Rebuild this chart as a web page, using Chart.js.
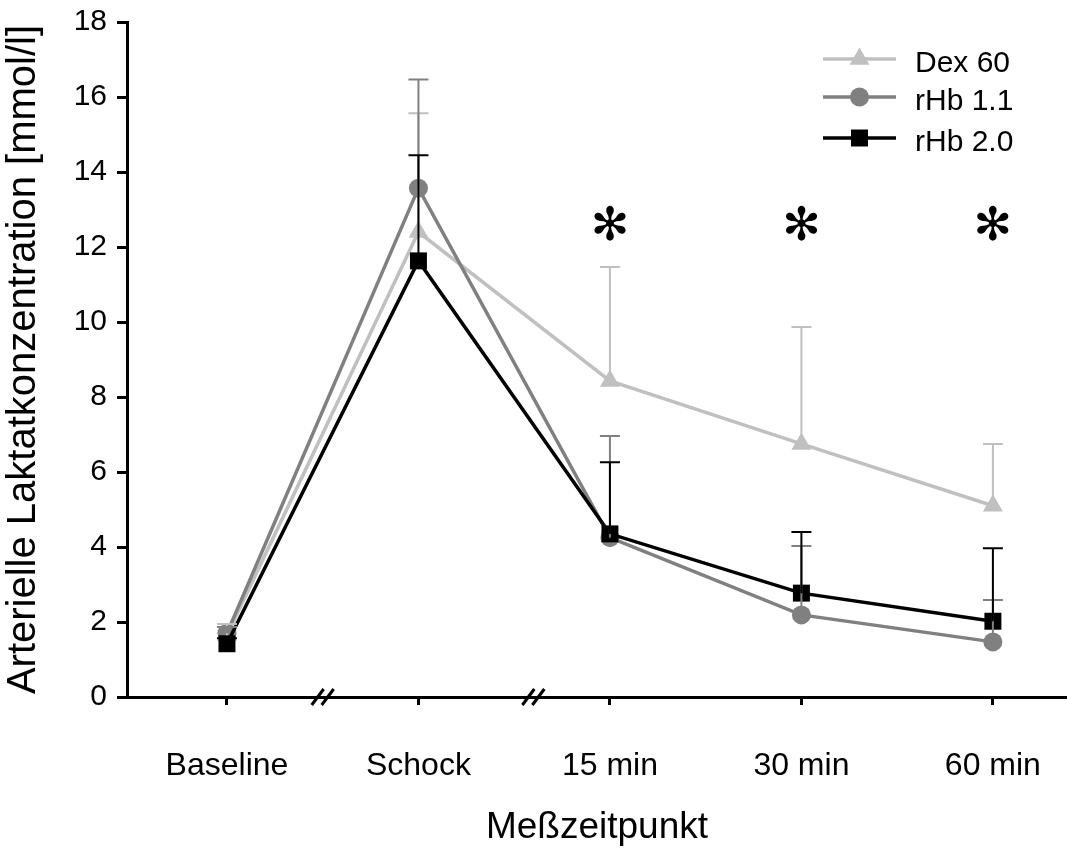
<!DOCTYPE html>
<html>
<head>
<meta charset="utf-8">
<script src="https://cdn.jsdelivr.net/npm/chart.js@4.4.1/dist/chart.umd.min.js"></script>
<style>
    html, body { margin: 0; padding: 0; background: #fff; }
    #wrap { width: 1067px; height: 850px; }
</style>
</head>
<body>
<div id="wrap"><canvas id="chart" width="1067" height="850"></canvas></div>
<script>
// Messzeitpunkte
const categories = ['Baseline', 'Schock', '15 min', '30 min', '60 min'];

// Mittelwerte und SD (nur obere Fehlerbalken)
const dex60 = [1.65, 12.4, 8.43, 6.75, 5.1];
const dex60Sd = [0.3, 3.17, 3.04, 3.12, 1.65];
const rhb11 = [1.7, 13.57, 4.25, 2.19, 1.47];
const rhb11Sd = [0.17, 2.9, 2.71, 1.84, 1.12];
const rhb20 = [1.42, 11.63, 4.35, 2.77, 2.02];
const rhb20Sd = [0.15, 2.82, 1.91, 1.63, 1.95];

// Signifikanz-Markierungen
const sigMarks = ['', '', '\u273B', '\u273B', '\u273B'];

// y-Achse
const yTicks = [0, 2, 4, 6, 8, 10, 12, 14, 16, 18];

const FONT = '"Liberation Sans", Arial, sans-serif';

function toPoints(values) {
    return values.map((v, i) => ({ x: i, y: v }));
}

const series = [
    { label: 'Dex 60', data: dex60, sd: dex60Sd, color: '#c0c0c0', style: 'triangle', radius: 11.5 },
    { label: 'rHb 1.1', data: rhb11, sd: rhb11Sd, color: '#808080', style: 'circle', radius: 9.5 },
    { label: 'rHb 2.0', data: rhb20, sd: rhb20Sd, color: '#000000', style: 'rect', radius: 12 }
];

// keine Extra-Polsterung durch Tick-Beschriftungen
function noPadding(scale) {
    scale.paddingLeft = 0;
    scale.paddingRight = 0;
    scale.paddingTop = 0;
    scale.paddingBottom = 0;
}

// Fehlerbalken nach oben
const errorBars = {
    id: 'errorBars',
    afterDatasetsDraw(chart) {
        const { ctx, scales: { x, y } } = chart;
        ctx.save();
        series.forEach((s) => {
            ctx.strokeStyle = s.color;
            ctx.lineWidth = 2;
            s.data.forEach((v, i) => {
                const px = x.getPixelForValue(i);
                const y0 = y.getPixelForValue(v);
                const y1 = y.getPixelForValue(v + s.sd[i]);
                ctx.beginPath();
                ctx.moveTo(px, y0);
                ctx.lineTo(px, y1);
                ctx.moveTo(px - 10, y1);
                ctx.lineTo(px + 10, y1);
                ctx.stroke();
            });
        });
        ctx.restore();
    }
};

// Sternchen + Achsenunterbrechung + Legende
const extras = {
    id: 'extras',
    afterDraw(chart) {
        const { ctx, chartArea, scales: { x, y } } = chart;
        ctx.save();

        // Sternchen
        ctx.fillStyle = '#000';
        ctx.font = '46px "DejaVu Sans"';
        ctx.textAlign = 'center';
        ctx.textBaseline = 'middle';
        sigMarks.forEach((m, i) => {
            if (m) ctx.fillText(m, x.getPixelForValue(i), y.getPixelForValue(12.5));
        });

        // Achsenunterbrechung
        ctx.strokeStyle = '#000';
        ctx.lineWidth = 3;
        [0.5, 1.6].forEach((b) => {
            const bx = x.getPixelForValue(b);
            const by = chartArea.bottom;
            [-5, 5].forEach((d) => {
                ctx.beginPath();
                ctx.moveTo(bx + d - 6, by + 8);
                ctx.lineTo(bx + d + 6, by - 8);
                ctx.stroke();
            });
        });

        // Legende
        const lx = chartArea.right - 244;
        const rows = [59, 97, 138];
        ctx.font = '30px ' + FONT;
        ctx.textAlign = 'left';
        ctx.textBaseline = 'alphabetic';
        series.forEach((s, i) => {
            const ly = rows[i];
            ctx.strokeStyle = s.color;
            ctx.lineWidth = 3.5;
            ctx.beginPath();
            ctx.moveTo(lx, ly);
            ctx.lineTo(lx + 73, ly);
            ctx.stroke();
            ctx.fillStyle = s.color;
            Chart.helpers.drawPoint(ctx, { pointStyle: s.style, radius: s.radius, borderWidth: 0 }, lx + 36.5, ly);
            ctx.fillStyle = '#000';
            ctx.fillText(s.label, lx + 92, ly + 13);
        });

        ctx.restore();
    }
};

const chart = new Chart(document.getElementById('chart'), {
    type: 'line',
    data: {
        datasets: series.map((s, i) => ({
            label: s.label,
            data: toPoints(s.data),
            borderColor: s.color,
            backgroundColor: s.color,
            borderWidth: 3.5,
            pointStyle: s.style,
            pointRadius: s.radius,
            pointHoverRadius: s.radius,
            pointBorderWidth: 0,
            tension: 0,
            clip: false,
            // rHb 2.0 oben, Dex 60 unten
            order: series.length - i
        }))
    },
    options: {
        responsive: false,
        animation: false,
        layout: { autoPadding: false, padding: { top: 22, right: 0, left: 0, bottom: 0 } },
        plugins: {
            legend: { display: false },
            tooltip: { enabled: false }
        },
        scales: {
            x: {
                type: 'linear',
                min: -0.522,
                max: 4.387,
                afterBuildTicks: (scale) => {
                    scale.ticks = categories.map((_, i) => ({ value: i }));
                },
                afterFit: (scale) => {
                    scale.height = 153;
                    noPadding(scale);
                },
                ticks: {
                    autoSkip: false,
                    maxRotation: 0,
                    padding: 42,
                    color: '#000',
                    font: { family: FONT, size: 32 },
                    callback: (v) => categories[v]
                },
                grid: { drawOnChartArea: false, tickLength: 8, tickWidth: 3, color: '#000' },
                border: { display: true, color: '#000', width: 3 },
                title: {
                    display: true,
                    text: 'Meßzeitpunkt',
                    color: '#000',
                    font: { family: FONT, size: 37 },
                    padding: { top: 0, bottom: 0 }
                }
            },
            y: {
                min: 0,
                max: 18,
                afterBuildTicks: (scale) => {
                    scale.ticks = yTicks.map((v) => ({ value: v }));
                },
                afterFit: (scale) => {
                    scale.width = 127;
                    noPadding(scale);
                },
                ticks: {
                    padding: 10,
                    color: '#000',
                    font: { family: FONT, size: 30 }
                },
                grid: { drawOnChartArea: false, tickLength: 10, tickWidth: 3, color: '#000' },
                border: { display: true, color: '#000', width: 3 },
                title: {
                    display: true,
                    text: 'Arterielle Laktatkonzentration [mmol/l]',
                    color: '#000',
                    font: { family: FONT, size: 40 },
                    padding: { top: 0, bottom: 0 }
                }
            }
        }
    },
    plugins: [errorBars, extras]
});
</script>
</body>
</html>
